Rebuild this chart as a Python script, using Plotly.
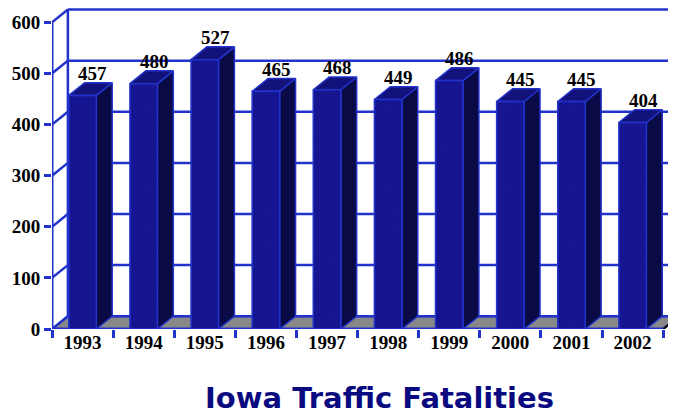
import plotly.graph_objects as go

years = ["1993", "1994", "1995", "1996", "1997", "1998", "1999", "2000", "2001", "2002"]
fatalities = [457, 480, 527, 465, 468, 449, 486, 445, 445, 404]
y_ticks = [0, 100, 200, 300, 400, 500, 600]

# style / geometry (page has 8px body margin)
W, H = 668, 409
ML, MT, MB = 44, 0, 88
XMIN, XMAX = -0.5, 9.71
YMIN, YMAX = 0, 628
DX, DY = 0.26, 25          # 3D depth offset in data units
BW = 0.45                  # bar front width
LINE = "#2233cc"
FRONT = "#14148e"
SIDE = "#0a0a46"
TOP = "#12127a"
FLOOR = "#888888"
TICKFONT = dict(family="Liberation Serif", size=19, color="#000000", weight="bold")

fig = go.Figure()
n = len(years)
xs = list(range(n))
ytop = y_ticks[-1]

def line(xv, yv, color=LINE, width=2.5):
    fig.add_trace(go.Scatter(x=xv, y=yv, mode="lines", line=dict(color=color, width=width),
                             hoverinfo="skip", showlegend=False, cliponaxis=False))

def poly(xv, yv, fill, lc=LINE, lw=1.5, pattern=None):
    kw = {}
    if pattern:
        kw["fillpattern"] = pattern
    fig.add_trace(go.Scatter(x=xv + [xv[0]], y=yv + [yv[0]], mode="lines", fill="toself",
                             fillcolor=fill, line=dict(color=lc, width=lw),
                             hoverinfo="skip", showlegend=False, **kw))

# floor
left, right = XMIN, n - 0.5
poly([left, right, right + DX, left + DX], [0, 0, DY, DY], FLOOR, lc=LINE, lw=2)
line([right, right + DX], [0, DY], color="#000000", width=2)

# back wall grid lines + left wall connectors
for t in y_ticks:
    line([left + DX, XMAX + 1], [t + DY, t + DY])
    line([left, left + DX], [t, t + DY])
line([left + DX, left + DX], [DY, ytop + DY])
line([left, left], [0, ytop], width=3)
line([left, right], [0, 0], width=3)

# bars (front face, side face, top face)
for i, v in zip(xs, fatalities):
    x0, x1 = i - BW / 2, i + BW / 2
    poly([x1, x1 + DX, x1 + DX, x1], [0, DY, v + DY, v], SIDE)
    poly([x0, x1, x1 + DX, x0 + DX], [v, v, v + DY, v + DY], TOP)
    poly([x0, x1, x1, x0], [0, 0, v, v], FRONT,
         pattern=dict(shape="x", size=3, solidity=0.2, fgcolor="#2a2ab8", fillmode="overlay"))

# value labels
for i, v in zip(xs, fatalities):
    fig.add_annotation(x=i + 0.17, y=v + DY, text=str(v), showarrow=False,
                       yanchor="bottom", yshift=-3, font=TICKFONT)

fig.update_layout(
    width=W, height=H,
    margin=dict(l=ML, r=0, t=MT, b=MB),
    paper_bgcolor="white", plot_bgcolor="white",
    xaxis=dict(range=[XMIN, XMAX], tickvals=xs, ticktext=years, ticks="", showgrid=False,
               zeroline=False, showline=False, tickfont=TICKFONT,
               minor=dict(tickvals=[k - 0.5 for k in range(n + 1)], ticks="outside", ticklen=8,
                          tickwidth=2.5, tickcolor=LINE, showgrid=False)),
    yaxis=dict(range=[YMIN, YMAX], tickvals=y_ticks, ticks="outside", ticklen=7, tickwidth=2.5,
               tickcolor=LINE, showgrid=False, zeroline=False, showline=False, tickfont=TICKFONT),
)

plot_h = H - MB - MT
fig.add_annotation(xref="paper", yref="paper", x=(371 - ML) / (W - ML), y=(plot_h - 408) / plot_h,
                   text="Iowa Traffic Fatalities", showarrow=False, xanchor="center", yanchor="bottom",
                   borderpad=0,
                   font=dict(family="DejaVu Sans", size=29, color="#0a0a80", weight="bold"))

fig.write_html("out.html")
